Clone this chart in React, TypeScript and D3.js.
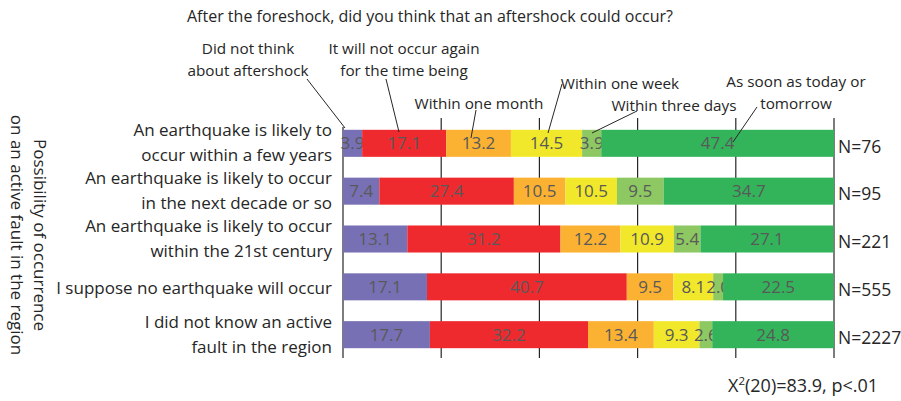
import React from "react";
import * as d3 from "d3";

const title = "After the foreshock, did you think that an aftershock could occur?";
const rowLabels: string[][] = [
  ["An earthquake is likely to", "occur within a few years"],
  ["An earthquake is likely to occur", "in the next decade or so"],
  ["An earthquake is likely to occur", "within the 21st century"],
  ["I suppose no earthquake will occur"],
  ["I did not know an active", "fault in the region"],
];
const nLabels = ["N=76", "N=95", "N=221", "N=555", "N=2227"];
const seriesNames = [
  "Did not think about aftershock",
  "It will not occur again for the time being",
  "Within one month",
  "Within one week",
  "Within three days",
  "As soon as today or tomorrow",
];
const values: number[][] = [
  [3.9, 17.1, 13.2, 14.5, 3.9, 47.4],
  [7.4, 27.4, 10.5, 10.5, 9.5, 34.7],
  [13.1, 31.2, 12.2, 10.9, 5.4, 27.1],
  [17.1, 40.7, 9.5, 8.1, 2.0, 22.5],
  [17.7, 32.2, 13.4, 9.3, 2.6, 24.8],
];
const colors = ["#7770B4", "#EE2A2F", "#FBB232", "#F2E82B", "#8DC862", "#33B45B"];
const gridTicks = [0, 20, 40, 60, 80, 100];
const yTitle = ["Possibility of occurrence", "on an active fault in the region"];
const stat = "(20)=83.9, p<.01";

// annotation callouts: label lines, text anchor position, leader line [x1,y1,x2,y2]
const callouts = [
  { lines: ["Did not think", "about aftershock"], x: 248, y: 48, line: [307, 79, 345, 128] },
  { lines: ["It will not occur again", "for the time being"], x: 404, y: 48, line: [386, 79, 399, 132] },
  { lines: ["Within one month"], x: 479, y: 103, line: [476, 110, 471, 138] },
  { lines: ["Within one week"], x: 620, y: 83, line: [562, 84, 548, 133] },
  { lines: ["Within three days"], x: 674, y: 105, line: [637, 111, 592, 133] },
  { lines: ["As soon as today or", "tomorrow"], x: 796, y: 81, line: [757, 107, 733, 142] },
];

const FONT = "'Open Sans', 'DejaVu Sans', sans-serif";

export default function App() {
  const W = 901, H = 401;
  const x = d3.scaleLinear().domain([0, 100]).range([343, 834]);
  const y = d3
    .scaleBand<number>()
    .domain(d3.range(values.length))
    .range([109, 369])
    .padding(0.435);
  const bw = y.bandwidth();

  return (
    <svg width={W} height={H} style={{ position: "absolute", left: 0, top: 0, background: "#fff" }} fontFamily={FONT}>
      <rect width={W} height={H} fill="#fff" />
      <text x={430} y={22} textAnchor="middle" fontSize={16} fill="#262626">{title}</text>

      {gridTicks.map((t, i) => (
        <line key={t} x1={x(t)} x2={x(t)} y1={i === 0 ? 127 : 118} y2={358} stroke="#262626" strokeWidth={1.2} />
      ))}

      {values.map((row, r) => {
        const stack = d3.cumsum(row);
        const y0 = y(r)!;
        return (
          <g key={r}>
            {row.map((v, i) => {
              const a = i === 0 ? 0 : stack[i - 1];
              const b = stack[i];
              return (
                <g key={i}>
                  <rect x={x(a)} y={y0} width={x(b) - x(a)} height={bw} fill={colors[i]} />
                  <text x={(x(a) + x(b)) / 2} y={y0 + bw / 2} dy="0.36em" textAnchor="middle" fontSize={17} fill="#595959">
                    {v.toFixed(1)}
                  </text>
                </g>
              );
            })}
            <text x={838} y={y0 + bw / 2 + 3} dy="0.36em" fontSize={17.5} fill="#262626">{nLabels[r]}</text>
            {rowLabels[r].map((l, k) => (
              <text
                key={k}
                x={332}
                y={y0 + bw / 2 + (k - (rowLabels[r].length - 1) / 2) * 25 + (rowLabels[r].length === 1 ? 1.5 : -0.5)}
                dy="0.36em"
                textAnchor="end"
                fontSize={17}
                fill="#262626"
              >
                {l}
              </text>
            ))}
          </g>
        );
      })}

      {callouts.map((c, i) => (
        <g key={i}>
          <line x1={c.line[0]} y1={c.line[1]} x2={c.line[2]} y2={c.line[3]} stroke="#262626" strokeWidth={1} />
          {c.lines.map((l, k) => (
            <text key={k} x={c.x} y={c.y + k * 22} dy="0.36em" textAnchor="middle" fontSize={15.3} fill="#262626">
              {l}
            </text>
          ))}
        </g>
      ))}

      {yTitle.map((l, k) => (
        <text
          key={k}
          transform={`translate(${40 - k * 23},235) rotate(90)`}
          textAnchor="middle"
          dy="0.36em"
          fontSize={17}
          fill="#262626"
        >
          {l}
        </text>
      ))}

      <text x={728} y={392} fontSize={18} fill="#262626">
        X<tspan dy={-7} fontSize={11.5}>2</tspan>
        <tspan dy={7}>{stat}</tspan>
      </text>
    </svg>
  );
}
